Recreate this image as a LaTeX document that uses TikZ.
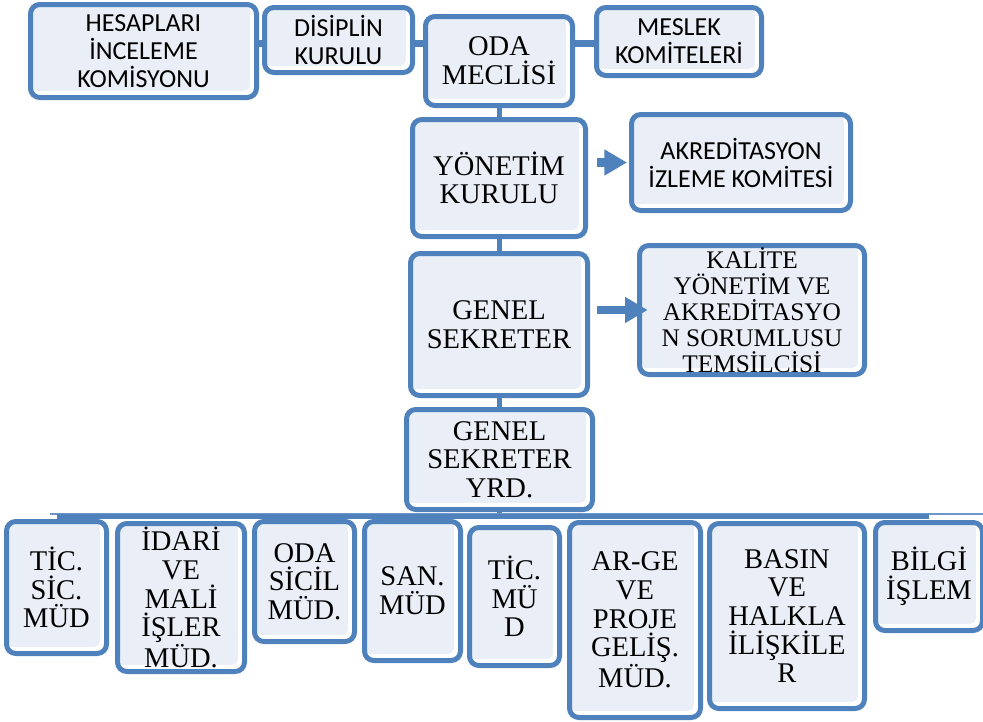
\documentclass[tikz,border=0pt]{standalone}
\usepackage{fontspec}
\setmainfont{Liberation Serif}
\newfontfamily\carlito{Carlito}
\usetikzlibrary{arrows.meta,backgrounds}
\definecolor{boxblue}{RGB}{79,129,189}
\definecolor{boxfill}{RGB}{234,239,247}
\definecolor{busline}{RGB}{110,150,200}

\begin{document}
\begin{tikzpicture}[x=0.75pt,y=-0.75pt,
    unit/.style={draw=boxblue,fill=white,line width=3.75pt,rounded corners=7pt,
      path picture={\fill[boxfill,rounded corners=4pt]
        (path picture bounding box.north west) rectangle
        ([xshift=-5pt,yshift=5pt]path picture bounding box.south east);},
      align=center,inner sep=1pt,font=\fontsize{21.4}{21.5}\selectfont},
    sansunit/.style={unit,font=\carlito\fontsize{19.5}{21}\selectfont},
    link/.style={draw=boxblue,line width=3.75pt},
    toplink/.style={draw=boxblue,line width=5.25pt},
    blockarrow/.style={draw=boxblue,line width=6.5pt,
      -{Triangle[length=17pt,width=18.5pt]}}]
  \useasboundingbox (0,0) rectangle (983,722);
  % upper part
  \node[sansunit,minimum width=169.5pt,minimum height=69.75pt] (hesap) at (143.5,51)
    {HESAPLARI\\İNCELEME\\KOMİSYONU};
  \node[sansunit,minimum width=111pt,minimum height=48.75pt] (disiplin) at (338.5,40)
    {DİSİPLİN\\KURULU};
  \node[unit,minimum width=110.25pt,minimum height=66.75pt] (meclis) at (499,61)
    {ODA\\MECLİSİ};
  \node[sansunit,minimum width=123.75pt,minimum height=51pt] (meslek) at (679,41.5)
    {MESLEK\\KOMİTELERİ};
  \node[unit,minimum width=129.75pt,minimum height=87.75pt] (yonetim) at (499,178)
    {YÖNETİM\\KURULU};
  \node[sansunit,minimum width=164.25pt,minimum height=72pt] (akred) at (741,162.5)
    {AKREDİTASYON\\İZLEME KOMİTESİ};
  \node[unit,minimum width=132.75pt,minimum height=106.5pt] (gensek) at (499,324.5)
    {GENEL\\SEKRETER};
  \node[unit,inner ysep=0pt,font=\fontsize{19}{19.5}\selectfont,
    minimum width=168.75pt,minimum height=96.75pt] (kalite) at (752,310)
    {KALİTE\\YÖNETİM VE\\AKREDİTASYO\\N SORUMLUSU\\TEMSİLCİSİ};
  \node[unit,minimum width=139.5pt,minimum height=75pt] (yrd) at (499.5,459.5)
    {GENEL\\SEKRETER\\YRD.};
  % directorates
  \node[unit,minimum width=75pt,minimum height=99pt] (ticsic) at (56.5,587.5)
    {TİC.\\SİC.\\MÜD};
  \node[unit,minimum width=95.25pt,minimum height=111pt] (idari) at (181,597.5)
    {İDARİ\\VE\\MALİ\\İŞLER\\MÜD.};
  \node[unit,minimum width=75pt,minimum height=90pt] (sicil) at (304.5,581.5)
    {ODA\\SİCİL\\MÜD.};
  \node[unit,minimum width=72pt,minimum height=104.25pt] (sanayi) at (412.5,591)
    {SAN.\\MÜD};
  \node[unit,minimum width=67.5pt,minimum height=103.5pt] (ticaret) at (514.5,596.5)
    {TİC.\\MÜ\\D};
  \node[unit,minimum width=98.25pt,minimum height=146.25pt] (arge) at (635,620)
    {AR-GE\\VE\\PROJE\\GELİŞ.\\MÜD.};
  \node[unit,minimum width=116.25pt,minimum height=138.75pt] (basin) at (787,616)
    {BASIN\\VE\\HALKLA\\İLİŞKİLE\\R};
  \node[unit,minimum width=80.25pt,minimum height=81pt] (bilgi) at (929,576.5)
    {BİLGİ\\İŞLEM};

  \coordinate (topline) at (0,43);
  \coordinate (bus) at (499.5,516);
  \coordinate (busL) at (50,514);
  \coordinate (busR) at (983,514);
  \begin{pgfonlayer}{background}
    \draw[toplink] (hesap.east |- topline) -- (meslek.west |- topline);
    \draw[link] (meclis.south) -- (meclis.south |- bus);
    \draw[busline,line width=1.2pt] (busL) -- (busR);
    \draw[link] (ticsic.north |- bus) -- (bilgi.north |- bus);
  \end{pgfonlayer}
  \draw[blockarrow,shorten <=6.4pt,shorten >=1.5pt] (yonetim.east |- akred.west) -- (akred.west);
  \draw[blockarrow,shorten <=5.6pt,shorten >=-8pt] (gensek.east |- kalite.west) -- (kalite.west);
\end{tikzpicture}
\end{document}
